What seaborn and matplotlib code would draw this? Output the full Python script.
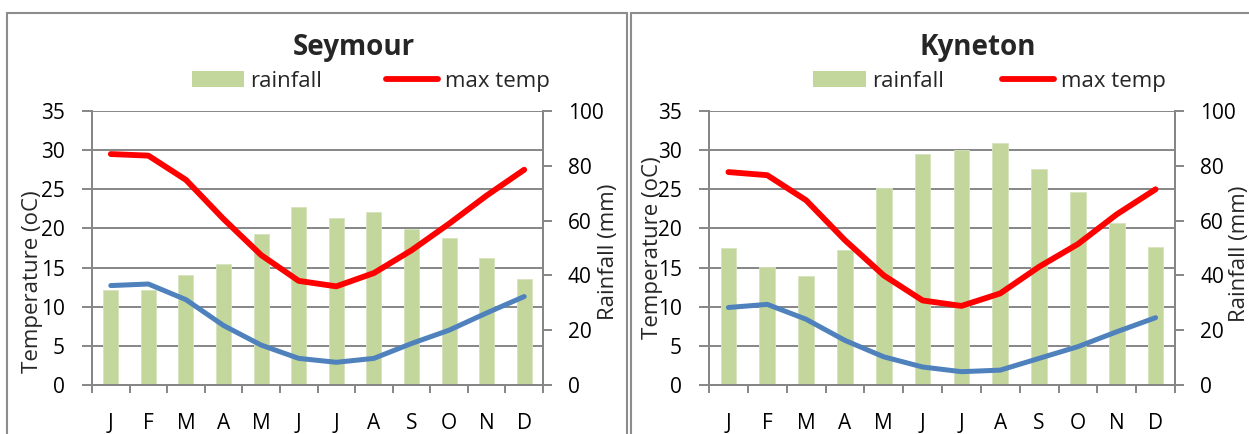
import numpy as np
import pandas as pd
import seaborn as sns
import matplotlib.pyplot as plt
from matplotlib.patches import Rectangle
from matplotlib.lines import Line2D
from matplotlib.ticker import MultipleLocator, FixedLocator

# monthly climate data
months = ['J', 'F', 'M', 'A', 'M', 'J', 'J', 'A', 'S', 'O', 'N', 'D']
month_idx = list(range(12))

seymour_rain = [34.5, 34.7, 40.2, 44.3, 55.1, 64.8, 61.0, 63.2, 56.9, 53.8, 46.5, 38.8]
seymour_max = [29.5, 29.3, 26.2, 21.2, 16.6, 13.3, 12.6, 14.3, 17.2, 20.6, 24.2, 27.5]
seymour_min = [12.7, 12.9, 10.9, 7.6, 5.1, 3.4, 2.9, 3.4, 5.3, 7.0, 9.2, 11.3]

kyneton_rain = [49.9, 43.0, 39.6, 49.3, 71.9, 84.2, 85.9, 88.4, 78.9, 70.4, 59.0, 50.3]
kyneton_max = [27.2, 26.8, 23.6, 18.5, 14.0, 10.8, 10.1, 11.7, 15.1, 18.0, 21.8, 25.0]
kyneton_min = [9.9, 10.3, 8.4, 5.7, 3.6, 2.3, 1.7, 1.9, 3.4, 4.9, 6.8, 8.6]

GREEN = '#C3D69B'
RED = '#FF0000'
BLUE = '#4F81BD'
GRID = '#868686'

sns.set_style('white')
plt.rcParams['font.family'] = ['Open Sans', 'DejaVu Sans']

W, H = 1249, 434
fig = plt.figure(figsize=(W / 100, H / 100), dpi=100)


def px_rect(x0, y0, x1, y1):
    # pixel box (top-left origin) -> figure fraction
    return [x0 / W, 1 - y1 / H, (x1 - x0) / W, (y1 - y0) / H]


def draw_station(box, name, rain, tmax, tmin, title_x, leg_x, leg_space, temp_lab, rain_lab):
    ax = fig.add_axes(px_rect(*box))
    ax2 = ax.twinx()
    ax3 = ax.twinx()

    df = pd.DataFrame({'month': month_idx, 'rain': rain, 'tmax': tmax, 'tmin': tmin})

    # rainfall bars on the secondary axis
    sns.barplot(data=df, x='month', y='rain', ax=ax2, color=GREEN, saturation=1,
                width=0.4, edgecolor='#D7E4BD', linewidth=0.6)
    # temperature lines on a top layer sharing the temperature scale
    sns.lineplot(data=df, x='month', y='tmax', ax=ax3, color=RED, lw=4.2)
    sns.lineplot(data=df, x='month', y='tmin', ax=ax3, color=BLUE, lw=3.6)

    for a in (ax, ax3):
        a.set_ylim(0, 35)
    ax2.set_ylim(0, 100)
    for a in (ax, ax2, ax3):
        a.set_xlim(-0.5, 11.5)
        a.set_xlabel('')
        a.set_ylabel('')

    ax3.axis('off')

    # temperature axis with grid
    ax.yaxis.set_major_locator(MultipleLocator(5))
    ax.grid(axis='y', color=GRID, lw=1.4)
    ax.grid(axis='x', visible=False)
    ax.tick_params(axis='y', left=True, length=7, width=1.4, color=GRID,
                   labelsize=15, pad=12.5, labelcolor='black')

    ax2.yaxis.set_major_locator(MultipleLocator(20))
    ax2.grid(False)
    ax2.tick_params(axis='y', right=True, length=6.5, width=1.4, color=GRID,
                    labelsize=15, pad=11.5, labelcolor='black')

    ax.xaxis.set_major_locator(FixedLocator(month_idx))
    ax.set_xticklabels(months)
    ax.xaxis.set_minor_locator(FixedLocator(np.arange(-0.5, 12, 1)))
    ax.tick_params(axis='x', which='major', length=0, labelsize=15, pad=20,
                   labelcolor='black')
    ax.tick_params(axis='x', which='minor', bottom=True, length=6, width=1.4,
                   color=GRID)

    for a in (ax, ax2):
        a.spines['top'].set_visible(False)
        for s in ('left', 'right', 'bottom'):
            a.spines[s].set_color(GRID)
            a.spines[s].set_linewidth(1.4)

    ax.set_title(name, x=title_x, y=1.204, pad=0, fontsize=20, fontweight='bold')

    ax.text(temp_lab[0], temp_lab[1], 'Temperature (oC)', rotation=90,
            ha='center', va='center', fontsize=16, transform=ax.transAxes)
    ax.text(rain_lab[0], rain_lab[1], 'Rainfall (mm)', rotation=90,
            ha='center', va='center', fontsize=16, transform=ax.transAxes,
            clip_on=False)

    handles = [Rectangle((0, 0), 1, 1, facecolor=GREEN, edgecolor='none'),
               Line2D([], [], color=RED, lw=4.2)]
    ax3.legend(handles, ['rainfall', 'max temp'], ncol=2, loc='center',
               bbox_to_anchor=(leg_x, 1.109), frameon=False, fontsize=16,
               handlelength=2.35, handletextpad=0.3, columnspacing=leg_space,
               borderpad=0, borderaxespad=0)
    return ax


draw_station((92, 111, 543, 385), 'Seymour', seymour_rain, seymour_max, seymour_min,
             0.58, 0.6175, 2.85, (-0.133, 0.376), (1.146, 0.485))
draw_station((709, 111, 1175, 385), 'Kyneton', kyneton_rain, kyneton_max, kyneton_min,
             0.577, 0.602, 2.6, (-0.122, 0.5), (1.139, 0.48))

# chart frames
fig.add_artist(Rectangle((7 / W, -0.1), (627 - 7) / W, (H - 13) / H + 0.1,
                         transform=fig.transFigure, fill=False,
                         edgecolor='#8C8C8C', lw=1.5))
fig.add_artist(Rectangle((631 / W, -0.1), (W + 10 - 631) / W, (H - 13) / H + 0.1,
                         transform=fig.transFigure, fill=False,
                         edgecolor='#8C8C8C', lw=1.5))

fig.savefig('out.png', dpi=100)
